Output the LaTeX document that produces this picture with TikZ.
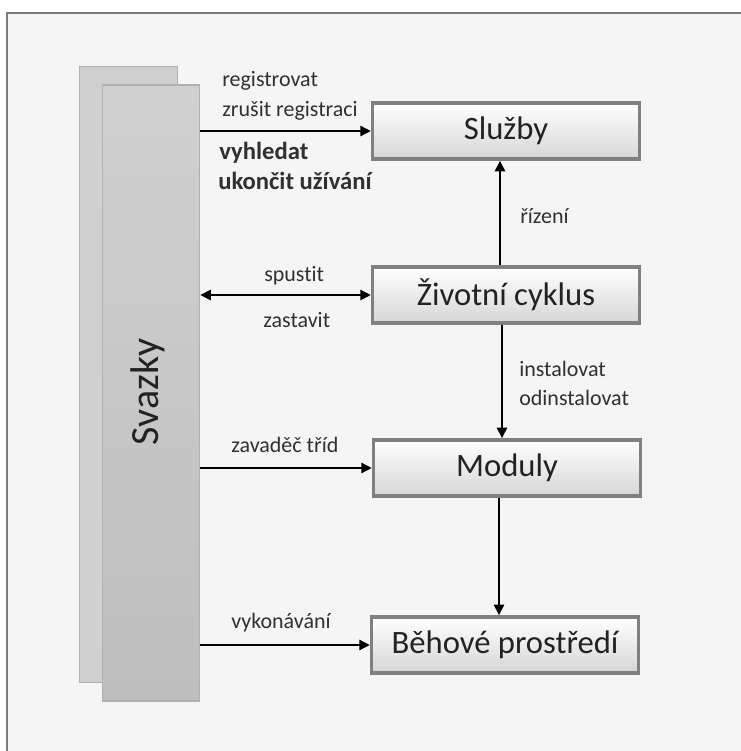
\documentclass[tikz,border=0pt]{standalone}
\usepackage{fontspec}
\setmainfont{Carlito}[Ligatures=NoCommon]
\usetikzlibrary{arrows.meta}
\definecolor{bgc}{HTML}{F5F5F5}
\definecolor{framec}{HTML}{7A7A7A}
\definecolor{boxborder}{HTML}{808080}
\definecolor{boxbot}{HTML}{D6D6D6}
\definecolor{svfill}{HTML}{D0D0D0}
\definecolor{svbot}{HTML}{BEBEBE}
\definecolor{svborder}{HTML}{B0B0B0}
\definecolor{txt}{HTML}{222222}
\definecolor{lbl}{HTML}{303030}
\tikzset{
  mainbox/.style={draw=boxborder, line width=2.6pt, top color=white, bottom color=boxbot,
    minimum width=200pt, minimum height=42pt, inner sep=0pt, text=txt,
    font=\fontsize{24.5}{28}\selectfont},
  svbox/.style={draw=svborder, line width=0.8pt, minimum width=73pt, minimum height=462pt, inner sep=0pt},
  lab/.style={anchor=base west, inner sep=0pt, text=lbl, font=\fontsize{16.5}{19}\selectfont},
  blab/.style={lab, font=\fontsize{18.5}{21}\selectfont\bfseries},
  conn/.style={line width=2pt, black, -{Triangle[length=8pt,width=7.5pt]}},
  dconn/.style={line width=2pt, black, {Triangle[length=8pt,width=7.5pt]}-{Triangle[length=8pt,width=7.5pt]}}
}
\begin{document}
\begin{tikzpicture}[x=0.75pt,y=-0.75pt]
\useasboundingbox (0,0) rectangle (741,751);
\fill[white] (0,0) rectangle (741,751);
\draw[draw=framec, line width=1.6pt, fill=bgc] (7,13) rectangle (770,780);

% Svazky stack
\node[svbox, fill=svfill] (svback) at (128.5,374.5) {};
\node[svbox, top color=svfill, bottom color=svbot] (sv) at (151,393) {};
\node[rotate=90, text=txt, font=\fontsize{30}{34}\selectfont] (svt) at (148,392) {Svazky};

% main boxes
\node[mainbox] (sl) at (506,131) {Služby};
\node[mainbox] (zc) at (506,295) {Životní cyklus};
\node[mainbox] (mo) at (507,468) {Moduly};
\node[mainbox] (bp) at (505,645) {Běhové prostředí};

% connectors
\draw[conn] (sv.east |- sl.west) -- (sl.west);
\draw[dconn] (sv.east |- zc.west) -- (zc.west);
\draw[conn] (sv.east |- mo.west) -- (mo.west);
\draw[conn] (sv.east |- bp.west) -- (bp.west);
\draw[conn] ([xshift=-4.5pt]zc.north) -- ([xshift=-4.5pt]zc.north |- sl.south);
\draw[conn] ([xshift=-3pt]zc.south) -- ([xshift=-3pt]zc.south |- mo.north);
\draw[conn] ([xshift=-6pt]mo.south) -- ([xshift=-6pt]mo.south |- bp.north);

% labels
\node[lab] (l1) at (222,86) {registrovat};
\node[lab] (l2) at (222,116) {zrušit registraci};
\node[blab] (l3) at (219,159) {vyhledat};
\node[blab] (l4) at (218,189) {ukončit užívání};
\node[lab] (l5) at (264,281) {spustit};
\node[lab] (l6) at (263,327) {zastavit};
\node[lab] (l7) at (231,452) {zavaděč tříd};
\node[lab] (l8) at (231,628) {vykonávání};
\node[lab] (l9) at (520,223) {řízení};
\node[lab] (l10) at (519,376) {instalovat};
\node[lab] (l11) at (519,405) {odinstalovat};
\end{tikzpicture}
\end{document}
